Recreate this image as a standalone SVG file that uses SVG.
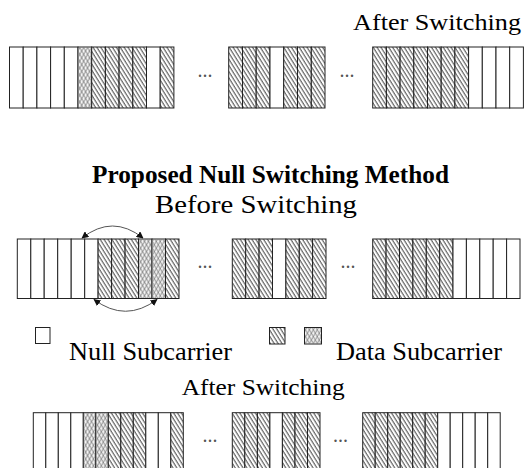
<svg xmlns="http://www.w3.org/2000/svg" width="525" height="468" viewBox="0 0 525 468">
<defs>
<pattern id="diag" patternUnits="userSpaceOnUse" width="3.3" height="10" patternTransform="rotate(-32)">
<rect width="3.3" height="10" fill="#fff"/>
<line x1="1" y1="0" x2="1" y2="10" stroke="#444" stroke-width="1"/>
</pattern>
<pattern id="crossA" patternUnits="userSpaceOnUse" width="3.4" height="10" patternTransform="rotate(-30)">
<line x1="1" y1="0" x2="1" y2="10" stroke="#666" stroke-width="0.7"/>
</pattern>
<pattern id="crossB" patternUnits="userSpaceOnUse" width="3.4" height="10" patternTransform="rotate(30)">
<line x1="1" y1="0" x2="1" y2="10" stroke="#666" stroke-width="0.7"/>
</pattern>
<marker id="ah" viewBox="0 0 10 10" refX="9" refY="5" markerWidth="7" markerHeight="7" orient="auto-start-reverse" markerUnits="userSpaceOnUse">
<path d="M0,0 L10,5 L0,10 z" fill="#111"/>
</marker>
</defs>
<style>
.t{font-family:"Liberation Serif","Times New Roman",serif;fill:#000}
.e{fill:#fff;stroke:#222;stroke-width:1}
.d{fill:url(#diag);stroke:#222;stroke-width:1}
.xa{fill:#f4f4f4;stroke:#222;stroke-width:1}
.xb{fill:url(#crossA);stroke:none}
.xc{fill:url(#crossB);stroke:none}
.dots{font-family:"Liberation Serif","Times New Roman",serif;font-size:20px;fill:#555;text-anchor:middle}
.arc{fill:none;stroke:#555;stroke-width:1}
</style>

<text class="t" x="353" y="30" font-size="23" textLength="168" lengthAdjust="spacingAndGlyphs">After Switching</text>

<g id="row1-blockA">
<rect class="e" x="9.5" y="47" width="13.7" height="61"/>
<rect class="e" x="23.2" y="47" width="13.7" height="61"/>
<rect class="e" x="36.9" y="47" width="13.7" height="61"/>
<rect class="e" x="50.6" y="47" width="13.7" height="61"/>
<rect class="e" x="64.3" y="47" width="13.7" height="61"/>
<rect class="xa" x="78" y="47" width="13.7" height="61"/><rect class="xb" x="78.5" y="47.5" width="12.7" height="60"/><rect class="xc" x="78.5" y="47.5" width="12.7" height="60"/>
<rect class="d" x="91.7" y="47" width="13.7" height="61"/>
<rect class="d" x="105.4" y="47" width="13.7" height="61"/>
<rect class="d" x="119.1" y="47" width="13.7" height="61"/>
<rect class="d" x="132.8" y="47" width="13.7" height="61"/>
<rect class="e" x="146.5" y="47" width="13.7" height="61"/>
<rect class="d" x="160.2" y="47" width="13.7" height="61"/>
</g>
<text class="dots" x="205" y="77">...</text>
<g id="row1-blockB">
<rect class="d" x="228.7" y="47" width="13.8" height="61"/>
<rect class="d" x="242.5" y="47" width="13.7" height="61"/>
<rect class="d" x="256.2" y="47" width="13.8" height="61"/>
<rect class="e" x="270" y="47" width="13.7" height="61"/>
<rect class="d" x="283.7" y="47" width="13.8" height="61"/>
<rect class="d" x="297.5" y="47" width="13.8" height="61"/>
<rect class="d" x="311.3" y="47" width="13.7" height="61"/>
</g>
<text class="dots" x="347" y="77">...</text>
<g id="row1-blockC">
<rect class="d" x="372.7" y="47" width="13.7" height="61"/>
<rect class="d" x="386.4" y="47" width="13.7" height="61"/>
<rect class="d" x="400.1" y="47" width="13.7" height="61"/>
<rect class="d" x="413.8" y="47" width="13.7" height="61"/>
<rect class="d" x="427.5" y="47" width="13.7" height="61"/>
<rect class="d" x="441.2" y="47" width="13.7" height="61"/>
<rect class="d" x="454.9" y="47" width="13.7" height="61"/>
<rect class="e" x="468.6" y="47" width="13.7" height="61"/>
<rect class="e" x="482.3" y="47" width="13.7" height="61"/>
<rect class="e" x="496" y="47" width="13.7" height="61"/>
<rect class="e" x="509.7" y="47" width="13.7" height="61"/>
</g>

<text class="t" x="92" y="183" font-size="25" font-weight="bold" textLength="357" lengthAdjust="spacingAndGlyphs">Proposed Null Switching Method</text>
<text class="t" x="155" y="213" font-size="25" textLength="202" lengthAdjust="spacingAndGlyphs">Before Switching</text>

<g id="row2-blockA">
<rect class="e" x="17.3" y="239" width="13.5" height="59.5"/>
<rect class="e" x="30.8" y="239" width="13.4" height="59.5"/>
<rect class="e" x="44.2" y="239" width="13.5" height="59.5"/>
<rect class="e" x="57.7" y="239" width="13.5" height="59.5"/>
<rect class="e" x="71.2" y="239" width="13.5" height="59.5"/>
<rect class="e" x="84.7" y="239" width="13.4" height="59.5"/>
<rect class="d" x="98.1" y="239" width="13.5" height="59.5"/>
<rect class="d" x="111.6" y="239" width="13.5" height="59.5"/>
<rect class="d" x="125.1" y="239" width="13.4" height="59.5"/>
<rect class="xa" x="138.5" y="239" width="13.5" height="59.5"/><rect class="xb" x="139" y="239.5" width="12.5" height="58.5"/><rect class="xc" x="139" y="239.5" width="12.5" height="58.5"/>
<rect class="xa" x="152" y="239" width="13.5" height="59.5"/><rect class="xb" x="152.5" y="239.5" width="12.5" height="58.5"/><rect class="xc" x="152.5" y="239.5" width="12.5" height="58.5"/>
<rect class="d" x="165.5" y="239" width="13.5" height="59.5"/>
</g>
<text class="dots" x="205" y="268">...</text>
<g id="row2-blockB">
<rect class="d" x="232.3" y="239" width="13.4" height="59.5"/>
<rect class="d" x="245.7" y="239" width="13.4" height="59.5"/>
<rect class="d" x="259.1" y="239" width="13.4" height="59.5"/>
<rect class="e" x="272.5" y="239" width="13.4" height="59.5"/>
<rect class="d" x="285.9" y="239" width="13.4" height="59.5"/>
<rect class="d" x="299.3" y="239" width="13.3" height="59.5"/>
<rect class="d" x="312.6" y="239" width="13.4" height="59.5"/>
</g>
<text class="dots" x="348" y="268">...</text>
<g id="row2-blockC">
<rect class="d" x="372.7" y="239" width="13.4" height="59.5"/>
<rect class="d" x="386.1" y="239" width="13.4" height="59.5"/>
<rect class="d" x="399.5" y="239" width="13.4" height="59.5"/>
<rect class="d" x="412.9" y="239" width="13.4" height="59.5"/>
<rect class="d" x="426.3" y="239" width="13.4" height="59.5"/>
<rect class="d" x="439.7" y="239" width="13.3" height="59.5"/>
<rect class="e" x="453" y="239" width="13.4" height="59.5"/>
<rect class="e" x="466.4" y="239" width="13.4" height="59.5"/>
<rect class="e" x="479.8" y="239" width="13.4" height="59.5"/>
<rect class="e" x="493.2" y="239" width="13.4" height="59.5"/>
<rect class="e" x="506.6" y="239" width="13.4" height="59.5"/>
</g>

<g id="connectors">
<path class="arc" d="M82,238 Q112.5,214 143,238" marker-start="url(#ah)" marker-end="url(#ah)"/>
<path class="arc" d="M94,299.5 Q125.5,323 157,299.5" marker-start="url(#ah)" marker-end="url(#ah)"/>
</g>

<g id="legend">
<rect x="35.5" y="327.5" width="14.5" height="16" fill="#fff" stroke="#222" stroke-width="1"/>
<text class="t" x="69" y="360" font-size="25" textLength="163" lengthAdjust="spacingAndGlyphs">Null Subcarrier</text>
<rect class="d" x="269.5" y="327.5" width="15.5" height="16.5"/>
<rect class="xa" x="304.5" y="327.5" width="17" height="16.5"/><rect class="xb" x="305" y="328" width="16" height="15.5"/><rect class="xc" x="305" y="328" width="16" height="15.5"/>
<text class="t" x="336" y="360" font-size="25" textLength="166" lengthAdjust="spacingAndGlyphs">Data Subcarrier</text>
</g>

<text class="t" x="181.7" y="395" font-size="24" textLength="163" lengthAdjust="spacingAndGlyphs">After Switching</text>

<g id="row3-blockA">
<rect class="e" x="33.3" y="412.7" width="12.5" height="60"/>
<rect class="e" x="45.8" y="412.7" width="12.5" height="60"/>
<rect class="e" x="58.3" y="412.7" width="12.5" height="60"/>
<rect class="e" x="70.8" y="412.7" width="12.5" height="60"/>
<rect class="xa" x="83.3" y="412.7" width="12.5" height="60"/><rect class="xb" x="83.8" y="413.2" width="11.5" height="59"/><rect class="xc" x="83.8" y="413.2" width="11.5" height="59"/>
<rect class="xa" x="95.8" y="412.7" width="12.5" height="60"/><rect class="xb" x="96.3" y="413.2" width="11.5" height="59"/><rect class="xc" x="96.3" y="413.2" width="11.5" height="59"/>
<rect class="d" x="108.3" y="412.7" width="12.5" height="60"/>
<rect class="d" x="120.8" y="412.7" width="12.5" height="60"/>
<rect class="d" x="133.3" y="412.7" width="12.5" height="60"/>
<rect class="e" x="145.8" y="412.7" width="12.5" height="60"/>
<rect class="e" x="158.3" y="412.7" width="12.5" height="60"/>
<rect class="d" x="170.8" y="412.7" width="12.5" height="60"/>
</g>
<text class="dots" x="210" y="442">...</text>
<g id="row3-blockB">
<rect class="d" x="232.3" y="412.7" width="12.5" height="60"/>
<rect class="d" x="244.8" y="412.7" width="12.6" height="60"/>
<rect class="d" x="257.4" y="412.7" width="12.5" height="60"/>
<rect class="e" x="269.9" y="412.7" width="12.5" height="60"/>
<rect class="d" x="282.4" y="412.7" width="12.6" height="60"/>
<rect class="d" x="295" y="412.7" width="12.5" height="60"/>
<rect class="d" x="307.5" y="412.7" width="12.5" height="60"/>
</g>
<text class="dots" x="340.5" y="442">...</text>
<g id="row3-blockC">
<rect class="d" x="362.7" y="412.7" width="12.5" height="60"/>
<rect class="d" x="375.2" y="412.7" width="12.5" height="60"/>
<rect class="d" x="387.7" y="412.7" width="12.5" height="60"/>
<rect class="d" x="400.2" y="412.7" width="12.5" height="60"/>
<rect class="d" x="412.7" y="412.7" width="12.5" height="60"/>
<rect class="d" x="425.2" y="412.7" width="12.5" height="60"/>
<rect class="e" x="437.7" y="412.7" width="12.5" height="60"/>
<rect class="e" x="450.2" y="412.7" width="12.5" height="60"/>
<rect class="e" x="462.7" y="412.7" width="12.5" height="60"/>
<rect class="e" x="475.2" y="412.7" width="12.5" height="60"/>
<rect class="e" x="487.7" y="412.7" width="12.5" height="60"/>
</g>
</svg>
